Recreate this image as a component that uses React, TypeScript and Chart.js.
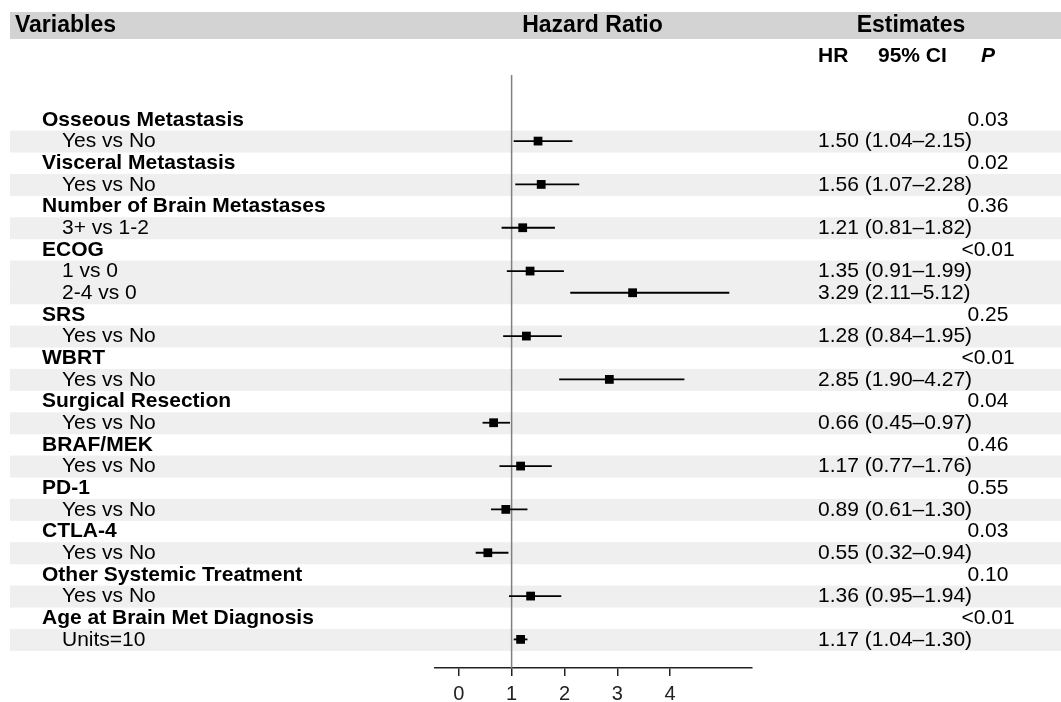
import React, { useEffect, useRef } from 'react';
import { Chart, registerables } from 'chart.js';

Chart.register(...registerables);

const groupNames = [
  'Osseous Metastasis',
  'Visceral Metastasis',
  'Number of Brain Metastases',
  'ECOG',
  'SRS',
  'WBRT',
  'Surgical Resection',
  'BRAF/MEK',
  'PD-1',
  'CTLA-4',
  'Other Systemic Treatment',
  'Age at Brain Met Diagnosis',
];
const groupP = ['0.03', '0.02', '0.36', '<0.01', '0.25', '<0.01', '0.04', '0.46', '0.55', '0.03', '0.10', '<0.01'];

const subLabels = [
  'Yes vs No', 'Yes vs No', '3+ vs 1-2', '1 vs 0', '2-4 vs 0', 'Yes vs No', 'Yes vs No',
  'Yes vs No', 'Yes vs No', 'Yes vs No', 'Yes vs No', 'Yes vs No', 'Units=10',
];
const subGroup = [0, 1, 2, 3, 3, 4, 5, 6, 7, 8, 9, 10, 11];
const hrValues = [1.50, 1.56, 1.21, 1.35, 3.29, 1.28, 2.85, 0.66, 1.17, 0.89, 0.55, 1.36, 1.17];
const ciLower = [1.04, 1.07, 0.81, 0.91, 2.11, 0.84, 1.90, 0.45, 0.77, 0.61, 0.32, 0.95, 1.04];
const ciUpper = [2.15, 2.28, 1.82, 1.99, 5.12, 1.95, 4.27, 0.97, 1.76, 1.30, 0.94, 1.94, 1.30];

const xTicks = [0, 1, 2, 3, 4];
const refValue = 1;

const FONT = '"Liberation Sans", Arial, Helvetica, sans-serif';

type Row = { kind: 'group' | 'sub'; label: string; p?: string; si?: number };

const rows: Row[] = [];
groupNames.forEach((g, gi) => {
  rows.push({ kind: 'group', label: g, p: groupP[gi] });
  subGroup.forEach((sg, si) => {
    if (sg === gi) rows.push({ kind: 'sub', label: subLabels[si], si });
  });
});

const Y_MIN = -2.05;
const Y_MAX = 25.32;

export default function App() {
  const ref = useRef<HTMLCanvasElement | null>(null);

  useEffect(() => {
    if (!ref.current) return;

    const subRowIndex: number[] = [];
    rows.forEach((r, i) => {
      if (r.kind === 'sub' && r.si !== undefined) subRowIndex[r.si] = i;
    });

    const ciSets = hrValues.map((_, si) => ({
      type: 'scatter' as const,
      data: [
        { x: ciLower[si], y: subRowIndex[si] },
        { x: ciUpper[si], y: subRowIndex[si] },
      ],
      showLine: true,
      borderColor: '#000',
      borderWidth: 1.8,
      pointRadius: 0,
      order: 2,
    }));

    const tablePlugin = {
      id: 'forestTable',
      beforeDraw(chart: any) {
        const ctx = chart.ctx;
        const y = chart.scales.y;
        ctx.save();
        ctx.fillStyle = '#d3d3d3';
        ctx.fillRect(10, 12, 1061 - 10, 27);
        ctx.fillStyle = '#efefef';
        rows.forEach((r, i) => {
          if (r.kind !== 'sub') return;
          const c = y.getPixelForValue(i);
          ctx.fillRect(10, c - 10.5, 1061 - 10, 22);
        });
        ctx.restore();
      },
      afterDraw(chart: any) {
        const ctx = chart.ctx;
        const y = chart.scales.y;
        ctx.save();
        ctx.fillStyle = '#000';
        ctx.textBaseline = 'middle';
        // header
        ctx.font = `bold 23px ${FONT}`;
        ctx.textAlign = 'left';
        ctx.fillText('Variables', 15, 26);
        ctx.textAlign = 'center';
        ctx.fillText('Hazard Ratio', 592.5, 26);
        ctx.fillText('Estimates', 911, 26);
        // subheader
        ctx.font = `bold 21px ${FONT}`;
        ctx.textAlign = 'left';
        ctx.fillText('HR', 818, 56);
        ctx.fillText('95% CI', 878, 56);
        ctx.font = `italic bold 21px ${FONT}`;
        ctx.textAlign = 'center';
        ctx.fillText('P', 988, 56);
        // rows
        rows.forEach((r, i) => {
          const c = y.getPixelForValue(i) + 0.5;
          if (r.kind === 'group') {
            ctx.font = `bold 21px ${FONT}`;
            ctx.textAlign = 'left';
            ctx.fillText(r.label, 42, c);
            ctx.font = `21px ${FONT}`;
            ctx.textAlign = 'center';
            ctx.fillText(r.p || '', 988, c);
          } else {
            const si = r.si as number;
            ctx.font = `21px ${FONT}`;
            ctx.textAlign = 'left';
            ctx.fillText(r.label, 62, c);
            const est = `${hrValues[si].toFixed(2)} (${ciLower[si].toFixed(2)}\u2013${ciUpper[si].toFixed(2)})`;
            ctx.fillText(est, 818, c);
          }
        });
        ctx.restore();
      },
    };

    const chart = new Chart(ref.current, {
      type: 'scatter',
      data: {
        datasets: [
          {
            type: 'scatter',
            data: [
              { x: refValue, y: Y_MIN },
              { x: refValue, y: Y_MAX },
            ],
            showLine: true,
            borderColor: '#808080',
            borderWidth: 1.5,
            pointRadius: 0,
            order: 3,
          },
          ...ciSets,
          {
            type: 'scatter',
            data: hrValues.map((v, si) => ({ x: v, y: subRowIndex[si] })),
            pointStyle: 'rect',
            pointRadius: 6.2,
            backgroundColor: '#000',
            borderWidth: 0,
            order: 1,
          },
        ],
      },
      options: {
        responsive: false,
        devicePixelRatio: 1,
        animation: false,
        events: [],
        layout: { padding: { left: 435, right: 309, top: 75, bottom: 0 } },
        plugins: {
          legend: { display: false },
          tooltip: { enabled: false },
        },
        scales: {
          x: {
            type: 'linear',
            min: -0.45,
            max: 5.55,
            afterBuildTicks: (scale: any) => {
              scale.ticks = xTicks.map((v) => ({ value: v }));
            },
            grid: {
              drawOnChartArea: false,
              drawTicks: true,
              tickLength: 8,
              color: '#222',
              lineWidth: 1.5,
            },
            border: { display: true, color: '#222', width: 1.5 },
            ticks: {
              color: '#222',
              padding: 6,
              font: { family: FONT, size: 20 },
              callback: (v: any) => String(v),
            },
          },
          y: {
            type: 'linear',
            display: false,
            reverse: true,
            min: Y_MIN,
            max: Y_MAX,
          },
        },
      },
      plugins: [tablePlugin],
    } as any);

    return () => chart.destroy();
  }, []);

  return (
    <div
      style={{
        position: 'fixed',
        left: 0,
        top: 0,
        width: 1061,
        height: 702,
        overflow: 'hidden',
        background: '#fff',
      }}
    >
      <canvas ref={ref} width={1061} height={712} style={{ display: 'block' }} />
    </div>
  );
}
